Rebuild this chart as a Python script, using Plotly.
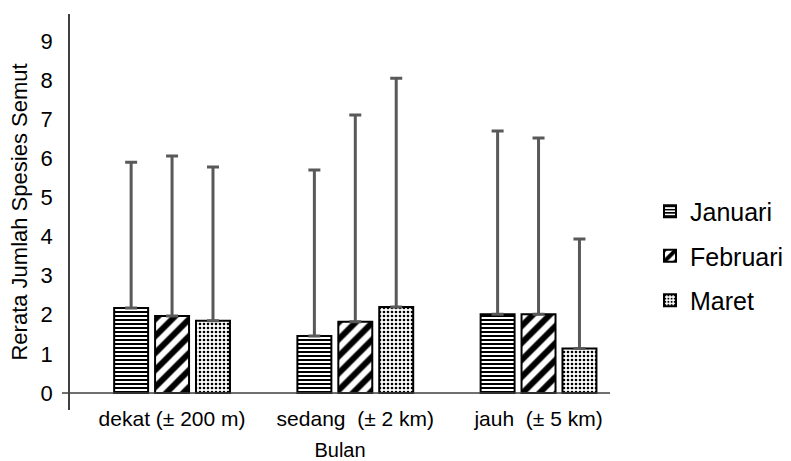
import plotly.graph_objects as go

categories = ["dekat (± 200 m)", "sedang  (± 2 km)", "jauh  (± 5 km)"]
series_names = ["Januari", "Februari", "Maret"]
means = {
    "Januari": [2.17, 1.46, 2.01],
    "Februari": [1.97, 1.82, 2.01],
    "Maret": [1.85, 2.20, 1.14],
}
errors_up = {
    "Januari": [3.73, 4.24, 4.69],
    "Februari": [4.09, 5.29, 4.51],
    "Maret": [3.93, 5.85, 2.80],
}
patterns = {
    "Januari": dict(shape="-", size=4, solidity=0.5),
    "Februari": dict(shape="/", size=12, solidity=0.5),
    "Maret": dict(shape=".", size=4, solidity=0.35),
}
y_ticks = list(range(0, 10))

W, H = 791, 461
L, R, T, B = 70, 181, 14, 51
pw = W - L - R

fig = go.Figure()
for name in series_names:
    fig.add_trace(go.Bar(
        x=list(range(len(categories))),
        y=means[name],
        name=name,
        legendgroup=name,
        marker=dict(
            color="white",
            line=dict(color="black", width=2),
            pattern=dict(fgcolor="black", bgcolor="white", fgopacity=1,
                         fillmode="overlay", **patterns[name]),
        ),
        error_y=dict(
            type="data", symmetric=False,
            array=errors_up[name], arrayminus=[0] * len(categories),
            color="#595959", thickness=3, width=6,
        ),
    ))

font_family = "Liberation Sans, Arial, sans-serif"
fig.update_layout(
    width=W, height=H,
    margin=dict(l=L, r=R, t=T, b=B, autoexpand=False),
    paper_bgcolor="white", plot_bgcolor="white",
    barmode="group", bargap=0.33, bargroupgap=0.17,
    font=dict(family=font_family, color="black"),
    showlegend=True,
    legend=dict(
        x=(650 - L) / pw, y=(410 - 256) / (H - T - B), xanchor="left", yanchor="middle",
        font=dict(size=25, family=font_family), tracegroupgap=9,
        itemwidth=30, bgcolor="rgba(0,0,0,0)",
    ),
    xaxis=dict(
        tickmode="array", tickvals=list(range(len(categories))), ticktext=categories,
        range=[-0.557, 2.39], showline=False, showgrid=False, zeroline=False,
        tickfont=dict(size=21), ticks="", automargin=False, ticklabelstandoff=-6,
        title=dict(text="Bulan", font=dict(size=20), standoff=16),
    ),
    yaxis=dict(
        range=[-0.435, 9.69], tickmode="array", tickvals=y_ticks,
        showline=True, linecolor="#404040", linewidth=1.5,
        showgrid=False, zeroline=False, ticks="", automargin=False,
        tickfont=dict(size=22), ticklabelstandoff=11,
        title=dict(text="Rerata Jumlah Spesies Semut", font=dict(size=22), standoff=7),
    ),
)
fig.add_shape(type="line", xref="paper", yref="y",
              x0=(62 - L) / pw, x1=1.0, y0=0, y1=0,
              line=dict(color="#404040", width=1.5))

fig.write_html("out.html")
